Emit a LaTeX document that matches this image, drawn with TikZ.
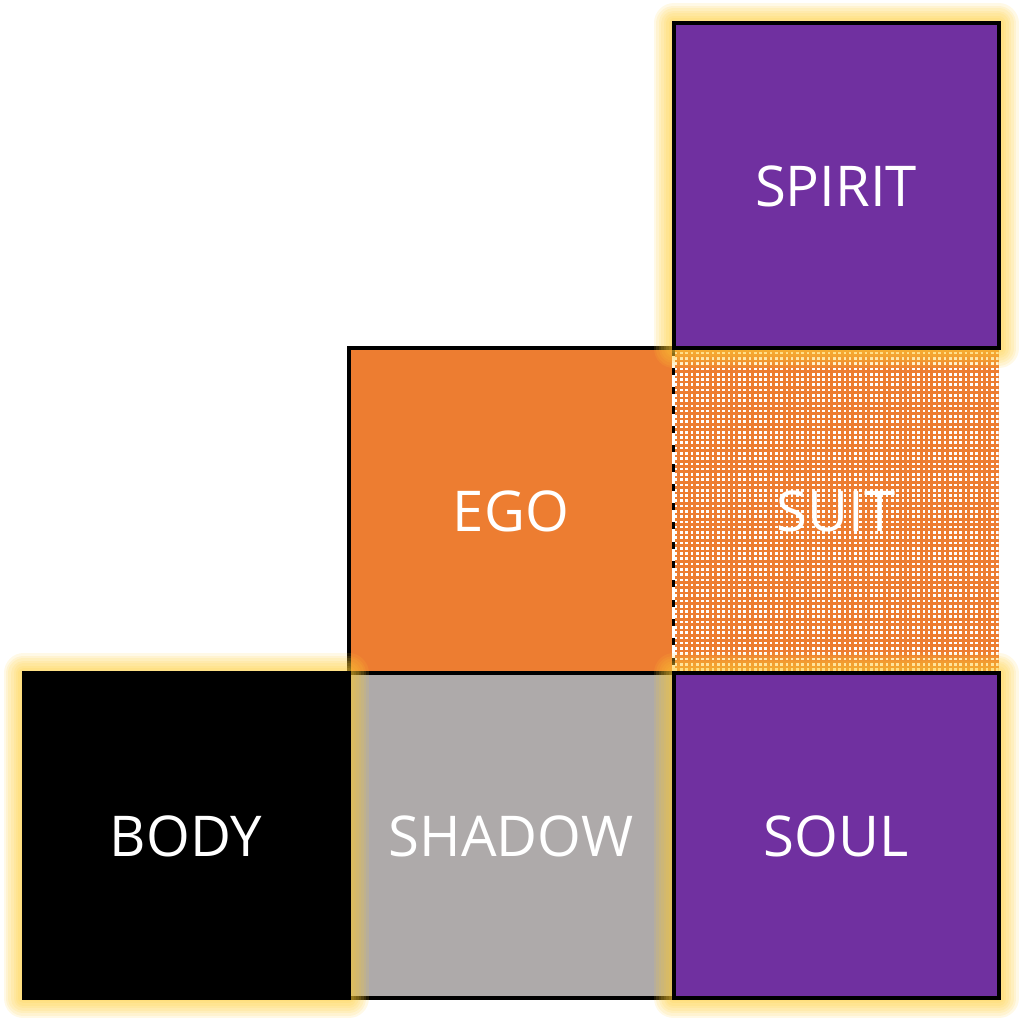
\documentclass[tikz,border=0pt]{standalone}
\usepackage{fontspec}
\setmainfont{Open Sans}
\usetikzlibrary{positioning, patterns}
\definecolor{soulpurple}{RGB}{112,48,160}
\definecolor{egoorange}{RGB}{237,125,49}
\definecolor{shadowgray}{RGB}{174,170,170}
\definecolor{glowc}{RGB}{255,204,51}
\pgfdeclarepatternformonly{suitgrid}{\pgfqpoint{-1pt}{-1pt}}{\pgfqpoint{2pt}{2pt}}{\pgfqpoint{1.5pt}{1.5pt}}{
	\pgfpathrectangle{\pgfqpoint{0pt}{0pt}}{\pgfqpoint{0.75pt}{0.75pt}}\pgfusepath{fill}
}
\tikzset{
	box/.style={minimum size=3.25cm, inner sep=0pt, outer sep=0pt, line width=.04cm, text=white, font=\fontsize{16}{19}\selectfont},
	glowring/.style={preaction={draw=glowc, draw opacity=.12, line join=round, line width=#1}},
	glowing/.style={glowring=.40cm, glowring=.35cm, glowring=.30cm, glowring=.25cm,
		glowring=.20cm, glowring=.15cm, glowring=.10cm, glowring=.05cm}
}

\begin{document}
\begin{tikzpicture}
	\useasboundingbox (0,0) rectangle (10.24,10.24);
	\node[box, draw, fill=egoorange] (ego) at (5.11,5.13) {EGO};
	\node[box, draw, fill=shadowgray, below=0pt of ego] (shadow) {SHADOW};
	\node[box, fill=egoorange, postaction={pattern=suitgrid, pattern color=white}, right=0pt of ego] (suit) {SUIT};
	\draw[white, line width=.025cm] (suit.north west) -- (suit.south west);
	\draw[line width=.025cm, dash pattern=on 2pt off 3.5pt] (suit.north west) -- (suit.south west);
	\node[box, glowing, draw, fill=black, left=0pt of shadow] (body) {BODY};
	\node[box, glowing, draw, fill=soulpurple, right=0pt of shadow] (soul) {SOUL};
	\node[box, glowing, draw, fill=soulpurple, above=0pt of suit] (spirit) {SPIRIT};
\end{tikzpicture}
\end{document}
